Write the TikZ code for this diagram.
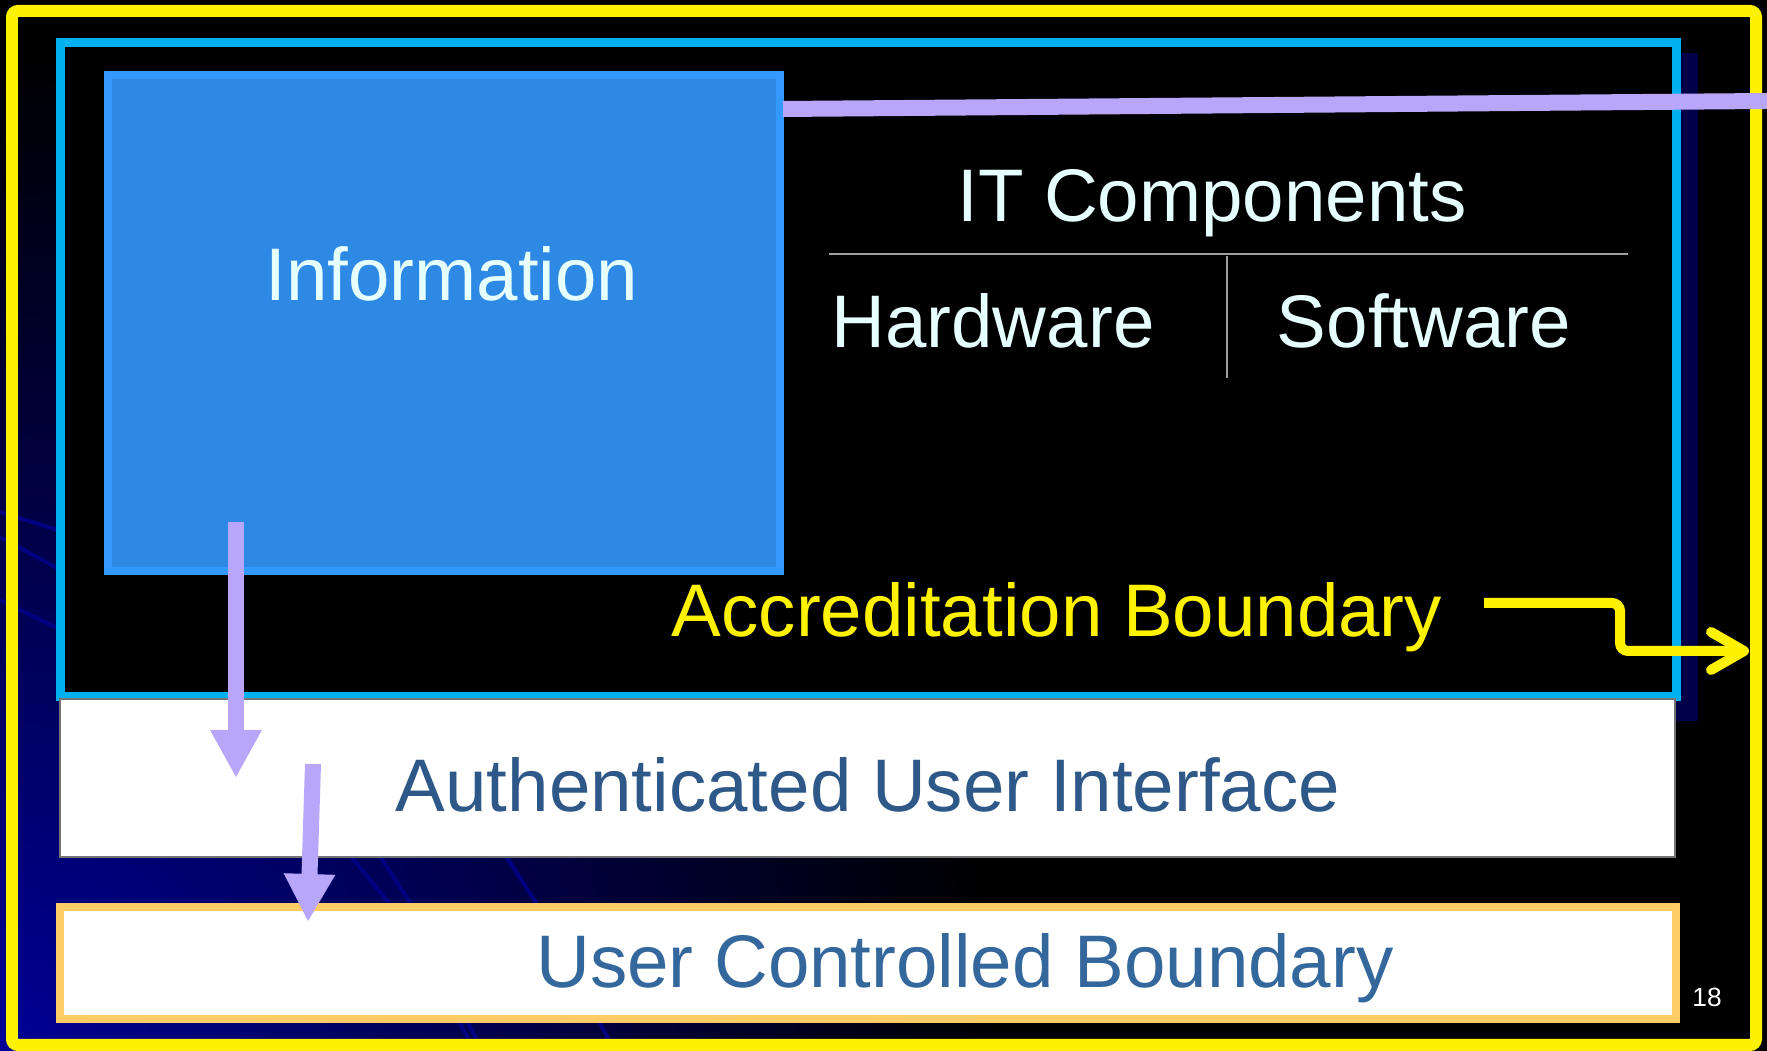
\documentclass[tikz,border=0pt]{standalone}
\usepackage{fontspec}
\setmainfont{Liberation Sans}
\usetikzlibrary{arrows.meta}

\definecolor{framecyan}{RGB}{0,176,240}
\definecolor{infofill}{RGB}{46,137,228}
\definecolor{infoedge}{RGB}{51,153,255}
\definecolor{icetext}{RGB}{230,255,255}
\definecolor{lavender}{RGB}{184,166,250}
\definecolor{deepnavy}{RGB}{0,0,72}
\definecolor{swoosh}{RGB}{0,0,128}
\definecolor{cornerblue}{RGB}{0,0,150}
\definecolor{uitext}{RGB}{46,88,136}
\definecolor{uctext}{RGB}{52,104,156}
\definecolor{ucedge}{RGB}{255,204,102}
\definecolor{rulegray}{RGB}{160,160,160}

\begin{document}
\begin{tikzpicture}
      [
        x=0.1mm, y=-0.1mm,
        txt/.style={anchor=base, inner sep=0pt, font=\fontsize{21.2}{25}\selectfont},
        box/.style={rectangle, inner sep=0pt},
        flow/.style={draw=lavender, line width=1.6mm, -{Triangle[length=4.8mm,width=4.8mm]}},
        curve/.style={draw=swoosh, line width=0.4mm}
      ]
      \useasboundingbox (0,0) rectangle (1767,1051);
      % backdrop
      \begin{scope}
        \clip (0,0) rectangle (1767,1051);
        \fill[black] (0,0) rectangle (1767,1051);
        \shade[inner color=cornerblue, outer color=black] (-1000,51) rectangle (1000,2051);
        \draw[curve] (0,512) -- (90,540);
        \draw[curve] (0,537) -- (90,586);
        \draw[curve] (0,600) -- (90,644);
        \draw[curve] (346,850) -- (396,912);
        \draw[curve] (376,850) -- (416,912);
        \draw[curve] (502,850) -- (542,912);
        \draw[curve] (456,1015) -- (474,1050);
        \draw[curve] (464,1015) -- (482,1050);
        \draw[curve] (596,1015) -- (614,1050);
      \end{scope}
      % accreditation boundary
      \node[box, fill=deepnavy, minimum width=161.6mm, minimum height=66.8mm] (shadow) at (890,387) {};
      \node[box, draw=framecyan, line width=0.9mm, fill=black,
        minimum width=161.6mm, minimum height=65.4mm] (accbox) at (868,370) {};
      \node[box, draw=infoedge, line width=0.8mm, fill=infofill,
        minimum width=67.2mm, minimum height=49.6mm] (infobox) at (444,323) {};
      \node[txt, text=icetext] (info) at (452,301) {Information};
      % IT components
      \node[txt, text=icetext] (itc) at (1212,222) {IT Components};
      \node[txt, text=icetext] (hw) at (993,348) {Hardware};
      \node[txt, text=icetext] (sw) at (1424,348) {Software};
      \draw[rulegray, line width=0.2mm] (829,254) -- (1628,254);
      \draw[rulegray, line width=0.2mm] (1227,256) -- (1227,378);
      \node[txt, text=yellow] (acc) at (1057,637) {Accreditation Boundary};
      % user side
      \node[box, draw=black!55, line width=0.2mm, fill=white,
        minimum width=161.5mm, minimum height=15.8mm] (uibox) at (867.5,778) {};
      \node[txt, text=uitext] (ui) at (868,812) {Authenticated User Interface};
      \node[box, draw=ucedge, line width=0.8mm, fill=white,
        minimum width=161.6mm, minimum height=11.2mm] (ucbox) at (868,963) {};
      \node[txt, text=uctext] (uc) at (965,988) {User Controlled Boundary};
      \node[anchor=base, inner sep=0pt, text=white, font=\fontsize{7.5}{9}\selectfont] (pageno) at (1707,1007) {18};
      % outer frame
      \draw[yellow, line width=1.2mm, rounded corners=0.6mm] (12,11) rectangle (1756,1045);
      % links
      \coordinate (linkin) at (783,109);
      \coordinate (linkout) at (1767,101);
      \draw[lavender, line width=1.6mm] (linkin) -- (linkout);
      \coordinate (down1) at (236,522);
      \coordinate (down1end) at (236,778);
      \draw[flow] (down1) -- (down1end);
      \coordinate (down2) at (313,764);
      \coordinate (down2end) at (308,922);
      \draw[flow] (down2) -- (down2end);
      \coordinate (accout) at (1484,603);
      \coordinate (accend) at (1749,651);
      \draw[yellow, line width=1mm, rounded corners=0.8mm,
        -{Straight Barb[length=3.3mm,width=3.8mm,round]}]
        (accout) -- ++(136,0) |- (accend);
\end{tikzpicture}
\end{document}
